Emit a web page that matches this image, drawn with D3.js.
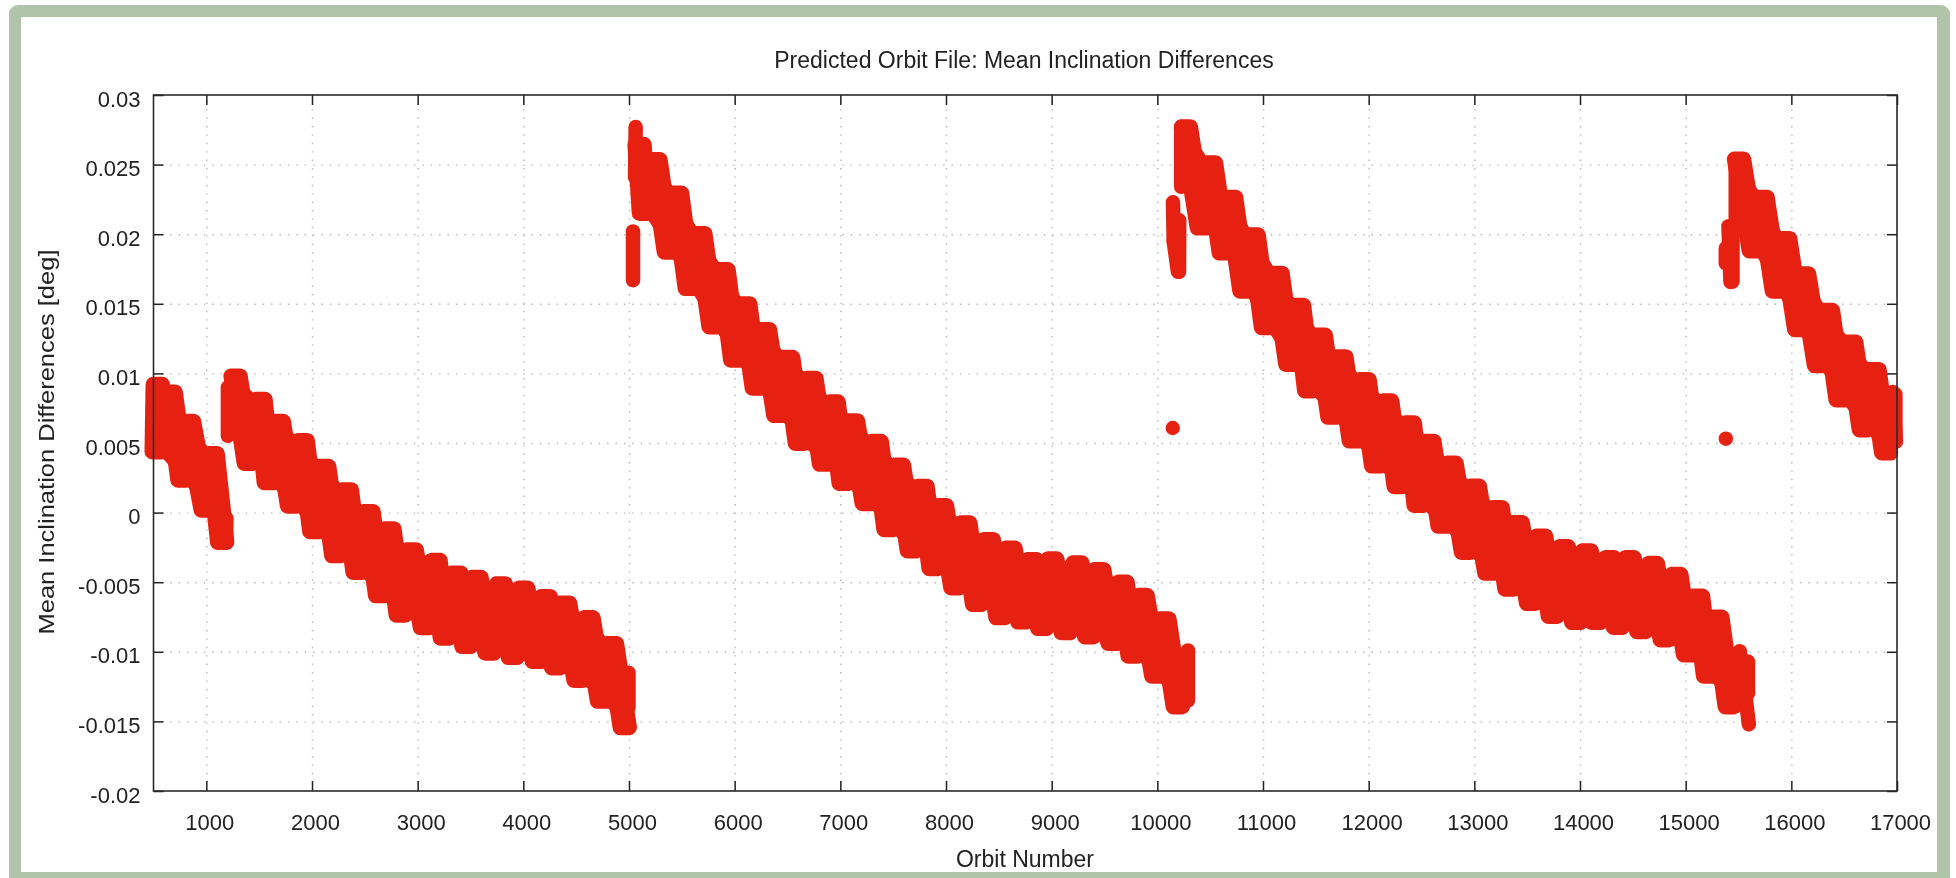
<!DOCTYPE html>
<html>
<head>
<meta charset="utf-8">
<script src="https://cdn.jsdelivr.net/npm/d3@7/dist/d3.min.js"></script>
<style>
html,body{margin:0;padding:0;background:#fff;overflow:hidden}
svg{display:block;filter:blur(0.45px)}
text{font-family:"Liberation Sans",Arial,sans-serif;fill:#222}
</style>
</head>
<body>
<svg id="c" width="1956" height="878"></svg>
<script>
const chartTitle = "Predicted Orbit File: Mean Inclination Differences";
const xTitle = "Orbit Number";
const yTitle = "Mean Inclination Differences [deg]";
const xTicks = [1000,2000,3000,4000,5000,6000,7000,8000,9000,10000,11000,12000,13000,14000,15000,16000,17000];
const yTicks = [-0.02,-0.015,-0.01,-0.005,0,0.005,0.01,0.015,0.02,0.025,0.03];

// each tooth: orbit of its highest value, highest value, orbit of its lowest value, lowest value (millidegrees)
const arc1a = [[540,9.2,530,4.38],[663,8.65,774,2.35],[836,6.54,994,0.19],[1060,4.22,1150,-2.13]];
const arc1b = [[1277,9.8,1402,3.55],[1513,8.12,1591,2.16],[1686,6.54,1811,0.48],[1912,5.17,2022,-1.36],[2116,3.31,2230,-3.09],[2330,1.63,2431,-4.28],[2535,0.07,2645,-5.96],[2733,-1.17,2840,-7.35],[2944,-2.68,3069,-8.26],[3170,-3.45,3257,-9.01],[3367,-4.35,3462,-9.61],[3557,-4.66,3680,-10.08],[3788,-5.13,3900,-10.39],[4000,-5.44,4127,-10.68],[4212,-6.04,4310,-11.14],[4396,-6.51,4522,-12.04],[4617,-7.56,4744,-13.54],[4839,-9.42,4960,-15.44]];
const arc2 = [[5100,26.44,5141,21.51],[5251,25.34,5377,18.73],[5455,22.94,5575,16.11],[5675,20.04,5800,13.36],[5895,17.44,6005,10.96],[6100,14.99,6209,8.96],[6287,13.14,6413,6.99],[6507,11.14,6617,4.99],[6727,9.64,6846,3.49],[6937,7.94,7032,2.11],[7120,6.58,7250,0.66],[7345,5.11,7456,-1.21],[7555,3.41,7677,-2.74],[7778,1.88,7883,-4.01],[7962,0.49,8089,-5.39],[8184,-0.75,8294,-6.59],[8405,-1.95,8516,-7.54],[8611,-2.56,8722,-7.84],[8817,-3.39,8911,-8.31],[9006,-3.34,9133,-8.62],[9244,-3.62,9355,-8.91],[9450,-4.1,9576,-9.39],[9671,-5.01,9766,-10.3],[9861,-5.96,9990,-11.74],[10067,-7.64,10193,-13.94]];
const arc3 = [[10270,27.7,10421,20.46],[10509,25.11,10629,18.66],[10698,22.64,10824,15.92],[10912,19.94,11028,13.3],[11138,17.18,11258,10.66],[11342,14.87,11437,8.76],[11547,12.74,11657,6.86],[11742,11.18,11860,5.16],[11962,9.54,12070,3.36],[12176,8.01,12284,1.88],[12390,6.44,12473,0.52],[12575,5.11,12700,-0.97],[12785,3.54,12920,-2.84],[13005,1.89,13142,-4.34],[13221,0.35,13332,-5.48],[13411,-0.73,13537,-6.51],[13632,-1.69,13743,-7.44],[13847,-2.46,13964,-7.88],[14065,-2.76,14153,-7.88],[14280,-3.25,14359,-8.24],[14470,-3.25,14580,-8.54],[14690,-3.66,14801,-9.13],[14912,-4.45,15022,-10.21],[15117,-6.01,15212,-11.74],[15300,-7.52,15417,-13.94]];
const arc4 = [[15505,25.39,15644,18.82],[15728,22.64,15863,15.92],[15942,19.68,16074,13.16],[16121,17.14,16262,10.56],[16347,14.51,16466,8.11],[16567,12.24,16686,5.96],[16787,10.27,16897,4.3]];
// short narrow runs of points standing apart from, or beside, the main teeth
const runs = [[505,8.8,505,5.0],[1190,-0.4,1186,-2.0],[1204,9.0,1204,5.52],[1240,9.7,1240,6],[4995,-11.5,4995,-14],[5038,20.2,5038,16.7],[5063,27.7,5057,24.1],[5180,25.4,5180,22],[10290,-9.9,10290,-13.5],[10148,22.3,10155,19.5],[10155,19.5,10195,17.3],[10207,21,10205,17.3],[10226,27.6,10226,23.4],[15512,-9.96,15598,-15.2],[15590,-10.7,15590,-13],[15474,24.7,15474,20.7],[15405,20.57,15424,16.57],[15380,19,15380,17.9],[15443,20,15443,16.6],[16960,8.67,16990,5.1],[16985,8.5,16985,5.5]];
const lonePoints = [[10146,6.08],[15380,5.31]];
const toothHalfWidth = 42; // orbits either side of a tooth's centre line

const L = 153.5, R = 1897, T = 95, B = 791;
const RED = "#e62112";
const x = d3.scaleLinear().domain([500,17000]).range([L,R]);
const y = d3.scaleLinear().domain([-0.02,0.03]).range([B,T]);
const svg = d3.select("#c");

// frame
svg.append("rect").attr("x",9).attr("y",5).attr("width",1941).attr("height",890).attr("rx",9).attr("fill","#afc4a9");
svg.append("rect").attr("x",21).attr("y",17).attr("width",1916).attr("height",855).attr("fill","#fff");

// grid
const gridStyle = g => { g.select(".domain").remove();
  g.selectAll("line").attr("stroke","#b5b5b5").attr("stroke-width",1.4).attr("stroke-dasharray","1.4 7");
  g.selectAll("text").remove(); };
svg.append("g").attr("transform",`translate(0,${B})`)
  .call(d3.axisBottom(x).tickValues(xTicks.slice(0,-1)).tickSize(-(B-T))).call(gridStyle);
svg.append("g").attr("transform",`translate(${L},0)`)
  .call(d3.axisLeft(y).tickValues(yTicks.slice(1,-1)).tickSize(-(R-L))).call(gridStyle);

// inner tick marks on all four sides
const tickStyle = g => { g.select(".domain").remove();
  g.selectAll("line").attr("stroke","#222").attr("stroke-width",1.5);
  g.selectAll("text").remove(); };
svg.append("g").attr("transform",`translate(0,${B})`).call(d3.axisTop(x).tickValues(xTicks).tickSize(10)).call(tickStyle);
svg.append("g").attr("transform",`translate(0,${T})`).call(d3.axisBottom(x).tickValues(xTicks).tickSize(10)).call(tickStyle);
svg.append("g").attr("transform",`translate(${L},0)`).call(d3.axisRight(y).tickValues(yTicks).tickSize(10)).call(tickStyle);
svg.append("g").attr("transform",`translate(${R},0)`).call(d3.axisLeft(y).tickValues(yTicks).tickSize(10)).call(tickStyle);

// marks
const m = v => v/1000;
const marks = svg.append("g");
const poly = d3.line().x(d=>x(d[0])).y(d=>y(m(d[1])));
const allArcs = [arc1a,arc1b,arc2,arc3,arc4];
allArcs.forEach(arc=>{
  const outline = arc.map(t=>[t[0],t[1]]).concat(arc.map(t=>[t[2],t[3]]).reverse());
  marks.append("path").attr("d",poly(outline)+"Z").attr("fill",RED);
});
const w = toothHalfWidth;
marks.selectAll("path.tooth").data([].concat(...allArcs)).join("path").attr("class","tooth")
  .attr("d",t=>poly([[t[0]-w,t[1]],[t[0]+w,t[1]],[t[2]+w,t[3]],[t[2]-w,t[3]]])+"Z")
  .attr("fill",RED).attr("stroke",RED).attr("stroke-width",15.5).attr("stroke-linejoin","round");
marks.selectAll("path.run").data(runs).join("path").attr("class","run")
  .attr("d",t=>poly([[t[0],t[1]],[t[2],t[3]]]))
  .attr("fill","none").attr("stroke",RED).attr("stroke-width",14.5).attr("stroke-linecap","round");
marks.selectAll("circle").data(lonePoints).join("circle")
  .attr("cx",d=>x(d[0])).attr("cy",d=>y(m(d[1]))).attr("r",7.2).attr("fill",RED);

// border above the marks
svg.append("rect").attr("x",L).attr("y",T).attr("width",R-L).attr("height",B-T)
  .attr("fill","none").attr("stroke","#2a2a2a").attr("stroke-width",1.6);

// tick labels
const labelStyle = g => { g.select(".domain").remove(); g.selectAll("line").remove();
  g.selectAll("text").style("font-size","22px").attr("fill","#222").style("font-family",'"Liberation Sans",Arial,sans-serif'); };
svg.append("g").attr("transform",`translate(0,${B})`)
  .call(d3.axisBottom(x).tickValues(xTicks).tickFormat(d3.format("d")).tickSize(0).tickPadding(0))
  .call(g=>{ labelStyle(g); g.selectAll("text").attr("dx",3).attr("y",39).attr("dy",0); });
svg.append("g").attr("transform",`translate(${L},0)`)
  .call(d3.axisLeft(y).tickValues(yTicks).tickFormat(d=>String(+d.toFixed(3))).tickSize(0).tickPadding(0))
  .call(g=>{ labelStyle(g); g.selectAll("text").attr("x",-13).attr("dy",0).attr("y",11); });

// titles
svg.append("text").attr("x",1024).attr("y",68).attr("text-anchor","middle").style("font-size","23px").text(chartTitle);
svg.append("text").attr("x",1025).attr("y",867).attr("text-anchor","middle").style("font-size","23px").text(xTitle);
svg.append("text").attr("transform","translate(54,442) rotate(-90)").attr("text-anchor","middle").style("font-size","22.5px")
  .attr("textLength",385).attr("lengthAdjust","spacingAndGlyphs").text(yTitle);
</script>
</body>
</html>
